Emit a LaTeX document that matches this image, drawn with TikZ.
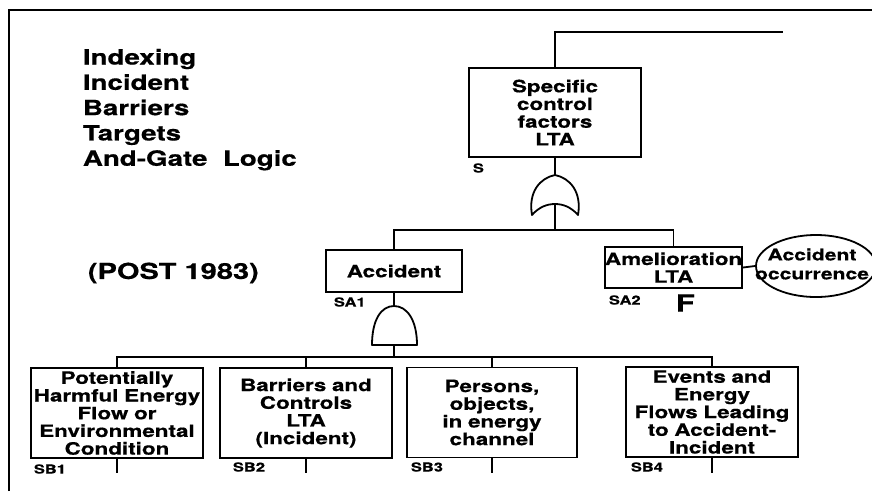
\documentclass[tikz,border=0pt]{standalone}
\usepackage{fontspec}
\setmainfont{TeX Gyre Heros}[FakeStretch=1.32, BoldFeatures={FakeBold=0.5}]
\usetikzlibrary{shapes.geometric}
\newcommand\titletext{\fontsize{21}{25.3}\selectfont\bfseries}
\newcommand\posttext{\fontsize{22}{24}\selectfont\bfseries}
\newcommand\boxtext{\fontsize{17}{17.7}\selectfont\bfseries}
\newcommand\occtext{\fontsize{16}{19}\selectfont\bfseries}
\newcommand\tagtext{\fontsize{12.5}{13}\selectfont\bfseries}
\newcommand\bigF{\fontsize{23.5}{24}\selectfont\bfseries}
\begin{document}
\begin{tikzpicture}[x=1pt,y=-1pt,
  line width=1.8pt,
  every node/.style={inner sep=0pt},
  event/.style={draw, rectangle, text width=172pt, minimum height=90pt,
    align=center, font=\boxtext},
  tag/.style={anchor=west, font=\tagtext},
  gate/.style={line width=1.8pt, line join=round},
]
\useasboundingbox (0,0) rectangle (872,491);
\fill[white] (0,0) rectangle (872,491);
\clip (0,0) rectangle (872,491);

% outer frame
\draw[line width=2pt] (9,491) -- (9,10) -- (872,10);

% heading
\node[anchor=north west, align=left, font=\titletext] (title) at (82,48)
  {Indexing\\Incident\\Barriers\\Targets\\And-Gate\ \ Logic};
\node[anchor=west, font=\posttext] (post) at (87,273) {(POST 1983)};

% top event
\node[event, minimum height=89pt] (s) at (555,112.5)
  {Specific\\control\\factors\\LTA};
\coordinate (topend) at (783,32);
\draw (s.north) |- (topend);
\node[tag] (ls) at (472,168) {S};

% OR gate under S
\coordinate (ortop) at (555,175);
\coordinate (orbase) at (555,204);
\draw (s.south) -- (ortop);
\draw[gate] (ortop) .. controls (540,178) and (528,192) .. (532,215)
  .. controls (539,207) and (547,204) .. (orbase)
  .. controls (563,204) and (571,207) .. (578,215)
  .. controls (582,192) and (570,178) .. cycle;

% second level
\node[event, text width=136pt, minimum height=42pt] (acc) at (394,271) {Accident};
\node[event, text width=137pt, minimum height=41pt] (amel) at (673.5,267.5)
  {Amelioration\\LTA};
\node[draw, ellipse, minimum width=120pt, minimum height=62pt] (occ) at (816,266) {};
\node[align=center, font=\occtext] (occtext) at (812,264) {Accident\\occurrence};
\draw (amel.east) -- (occ.west);

\coordinate (bar1) at (555,230);
\draw (orbase) -- (bar1);
\draw (acc.north) |- (bar1) -| (amel.north);

\node[tag] (lsa1) at (333,302) {SA1};
\node[tag] (lsa2) at (608,300) {SA2};
\node[anchor=west, font=\bigF] (lf) at (675,303) {F};

% AND gate under Accident
\coordinate (andtop) at (394,306);
\coordinate (andbase) at (394,345);
\draw (acc.south) -- (andtop);
\draw[gate] (372,345) .. controls (372,320) and (381,306) .. (andtop)
  .. controls (407,306) and (417,320) .. (417,345) -- cycle;

% bottom level
\node[event] (b1) at (117,413)
  {Potentially\\Harmful Energy\\Flow or\\Environmental\\Condition};
\node[event] (b2) at (306,413) {Barriers and\\Controls\\LTA\\(Incident)};
\node[event, text width=170pt] (b3) at (492,412.5)
  {Persons,\\objects,\\in energy\\channel};
\node[event] (b4) at (712,412)
  {Events and\\Energy\\Flows Leading\\to Accident-\\Incident};

\coordinate (bar2) at (394,357);
\draw (andbase) -- (bar2);
\draw (b1.north) |- (bar2) -| (b4.north);
\draw (b2.north) -- (b2.north |- bar2);
\draw (b3.north) -- (b3.north |- bar2);

% open branches below the bottom events
\coordinate (tickend) at (0,473);
\foreach \b in {b1,b2,b3,b4}
  \draw (\b.south) -- (\b.south |- tickend);

\node[tag] (lsb1) at (33,469) {SB1};
\node[tag] (lsb2) at (232,467) {SB2};
\node[tag] (lsb3) at (410,467) {SB3};
\node[tag] (lsb4) at (630,467) {SB4};
\end{tikzpicture}
\end{document}
